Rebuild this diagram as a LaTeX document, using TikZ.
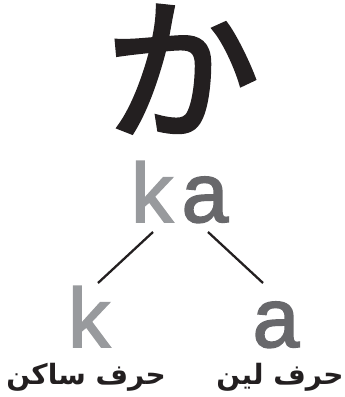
\documentclass[tikz,border=0pt]{standalone}
\usepackage{fontspec}
\setmainfont{Liberation Sans}
\newfontfamily\latinfont[FakeBold=2]{Liberation Sans}
\newfontfamily\jpfont[FakeBold=3]{Noto Sans CJK JP}
\newfontfamily\arabicfont[Script=Arabic]{DejaVu Sans}
\TeXXeTstate=1
\definecolor{kgray}{RGB}{152,154,157}
\definecolor{agray}{RGB}{104,104,107}
\definecolor{ink}{RGB}{35,31,32}
\begin{document}
\begin{tikzpicture}[x=1pt,y=-1pt,
  latin/.style={inner sep=0pt,anchor=base,font=\latinfont\fontsize{84}{84}\selectfont},
  kana/.style={inner sep=0pt,anchor=center,text=ink,font=\jpfont\fontsize{154}{154}\selectfont},
  label/.style={inner sep=0pt,anchor=base,text=ink,font=\arabicfont\bfseries\fontsize{28}{28}\selectfont},
  link/.style={draw=ink,line width=2.3pt}]
\useasboundingbox (0,0) rectangle (345,397);
\node[kana] (ka) at (182,69) {か};
\node[latin,text=kgray] (ktop) at (152,222) {k};
\node[latin,text=agray] (atop) at (205,222) {a};
\node[latin,text=kgray] (kbot) at (89,347) {k};
\node[latin,text=agray] (abot) at (276,347) {a};
\node[label] (lk) at (86,384) {\beginR حرف ساكن\endR};
\node[label] (la) at (280,384) {\beginR حرف لين\endR};
\coordinate (l1) at (153,232);
\coordinate (l2) at (98,283);
\coordinate (r1) at (208,232);
\coordinate (r2) at (263,283);
\draw[link] (l1) -- (l2);
\draw[link] (r1) -- (r2);
\end{tikzpicture}
\end{document}
